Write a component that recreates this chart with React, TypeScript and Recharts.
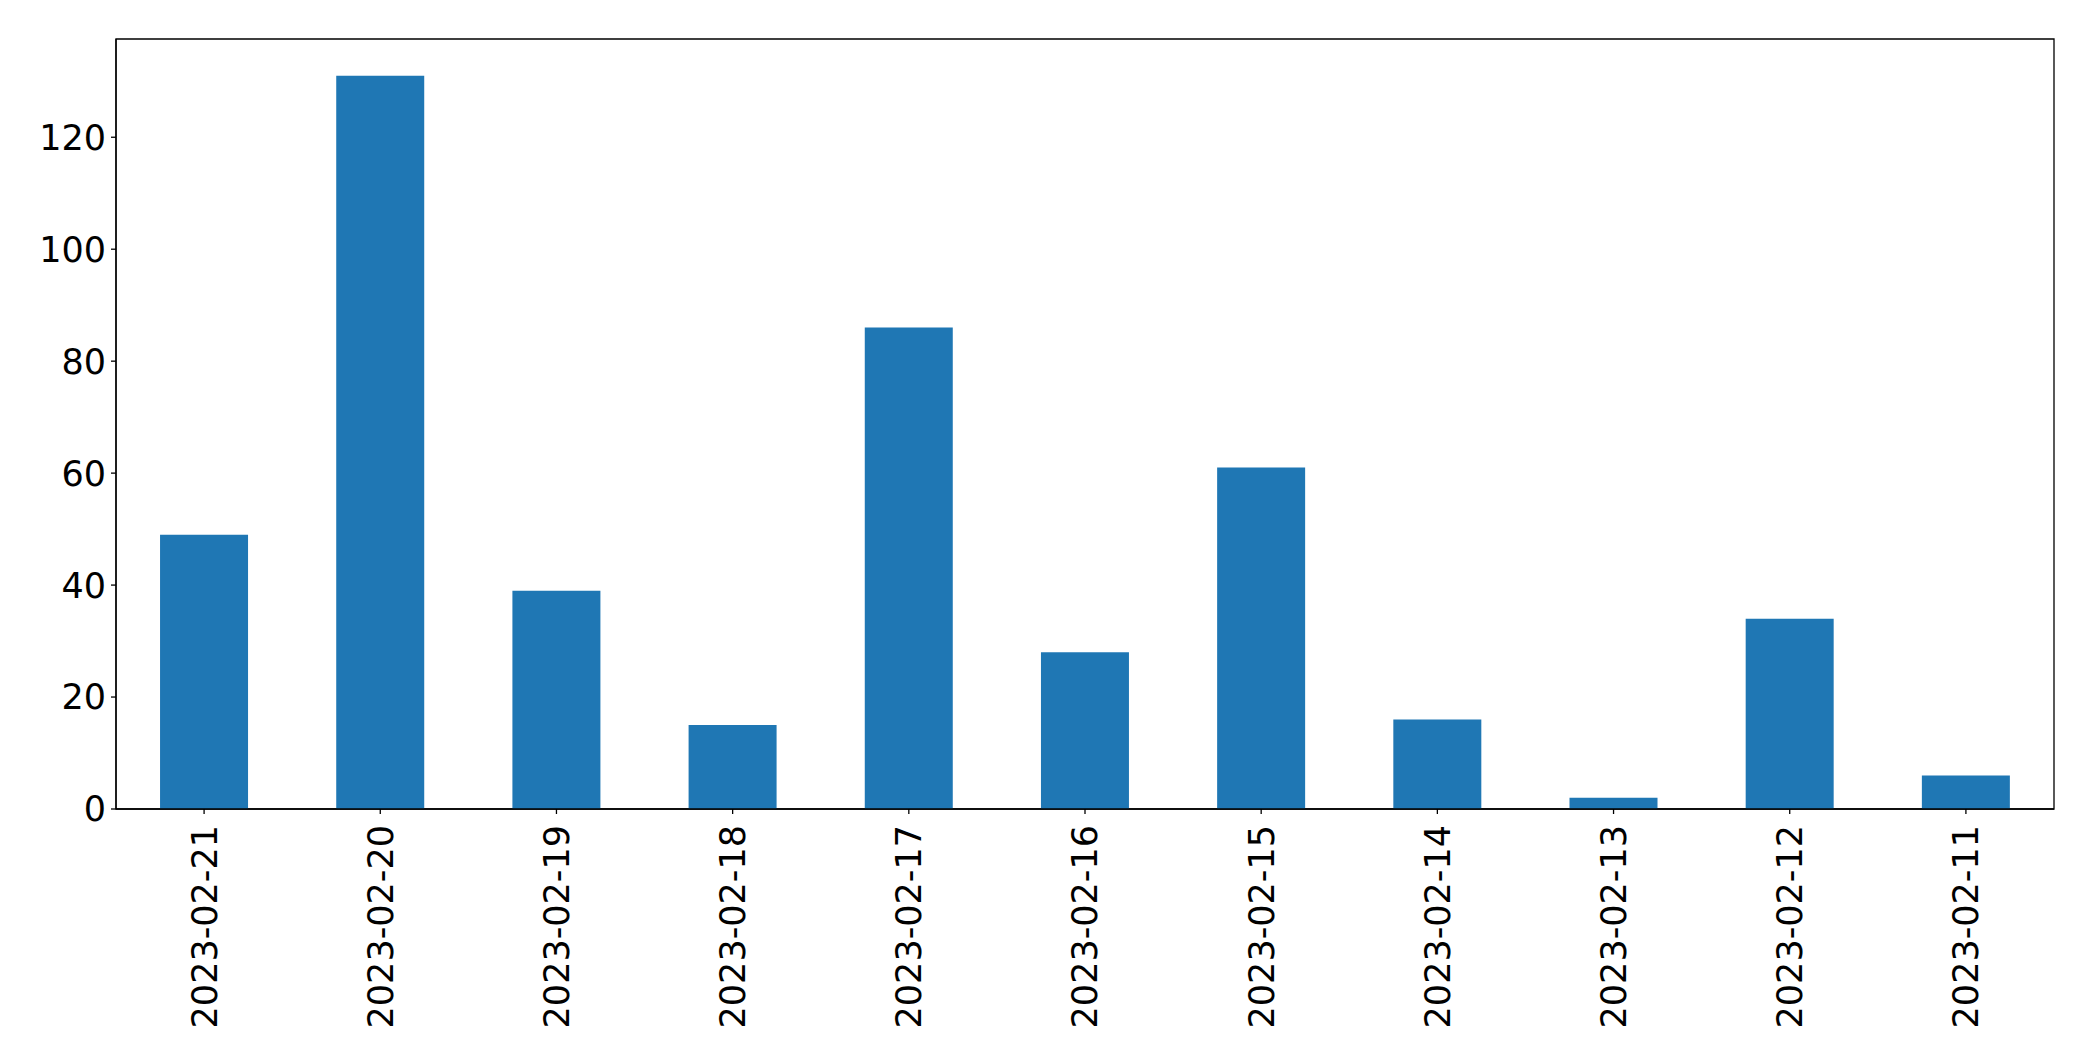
import React from 'react';
import { BarChart, Bar, XAxis, YAxis, ReferenceArea } from 'recharts';

const categories = ['2023-02-21', '2023-02-20', '2023-02-19', '2023-02-18', '2023-02-17', '2023-02-16', '2023-02-15', '2023-02-14', '2023-02-13', '2023-02-12', '2023-02-11'];
const counts = [49, 131, 39, 15, 86, 28, 61, 16, 2, 34, 6];
const yTicks = [0, 20, 40, 60, 80, 100, 120];
const yMax = 137.55;

const data = categories.map((c, i) => ({ date: c, count: counts[i] }));

const FONT = 'DejaVu Sans';

const XTick = (props: any) => {
  const { x, y, payload } = props;
  const ty = y + 9;
  return (
    <text
      x={x}
      y={ty}
      transform={`rotate(-90, ${x}, ${ty})`}
      textAnchor="end"
      dy="0.355em"
      fontSize={35}
      fontFamily={FONT}
      fill="#000"
    >
      {payload.value}
    </text>
  );
};

export default function App() {
  return (
    <div style={{ width: 2085, height: 1053, background: '#fff' }}>
      <BarChart
        width={2085}
        height={1053}
        data={data}
        margin={{ top: 31, right: 39, left: 0, bottom: 0 }}
        barCategoryGap="25%"
      >
        <XAxis
          dataKey="date"
          height={252}
          interval={0}
          tick={<XTick />}
          tickSize={5}
          tickLine={{ stroke: '#000', strokeWidth: 1.3 }}
          axisLine={{ stroke: '#000', strokeWidth: 1.3 }}
        />
        <YAxis
          width={108}
          domain={[0, yMax]}
          ticks={yTicks}
          interval={0}
          tickSize={5}
          tickMargin={5}
          tick={{ fontSize: 35, fontFamily: FONT, fill: '#000' }}
          tickLine={{ stroke: '#000', strokeWidth: 1.3 }}
          axisLine={{ stroke: '#000', strokeWidth: 1.3 }}
        />
        <Bar dataKey="count" fill="#1f77b4" isAnimationActive={false} />
        <ReferenceArea
          y1={0}
          y2={yMax}
          fill="none"
          fillOpacity={0}
          stroke="#000"
          strokeWidth={1.3}
          strokeOpacity={1}
        />
      </BarChart>
    </div>
  );
}
